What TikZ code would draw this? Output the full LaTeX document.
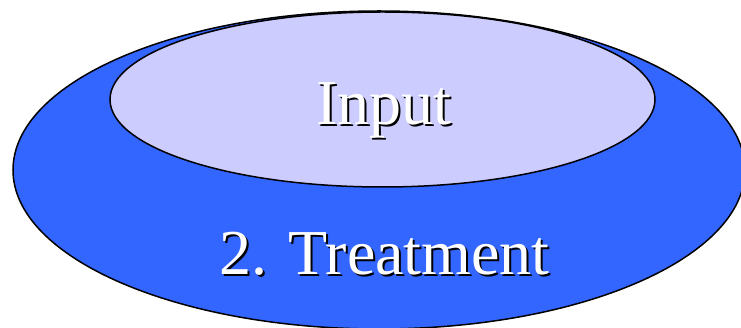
\documentclass[tikz,border=0pt]{standalone}
\usepackage{fontspec}
\setmainfont{Liberation Serif}
\usetikzlibrary{shapes.geometric}

\definecolor{treatblue}{HTML}{3366FF}
\definecolor{inputlav}{HTML}{CCCCFF}

% white text with a black drop shadow
\newcommand{\dropshadow}[1]{\makebox[0pt][l]{\hspace{2pt}\raisebox{-2pt}{\color{black}#1}}#1}

\begin{document}
\begin{tikzpicture}[
        x=1pt, y=-1pt,
        ring/.style={ellipse, draw=black, line width=1.5pt, inner sep=0pt},
        caption/.style={font=\fontsize{64}{64}\selectfont, text=white, inner sep=0pt, anchor=base}
    ]
        \useasboundingbox (0,0) rectangle (741,328);

        \node[ring, fill=treatblue, minimum width=732pt, minimum height=318pt] (treatment) at (379,170) {};
        \node[ring, fill=inputlav, minimum width=545pt, minimum height=175pt] (input) at (382.5,99.5) {};

        \node[caption] (input_label) at (384,125) {\dropshadow{Input}};
        \node[caption] (treatment_label) at (384.5,275) {\dropshadow{2. Treatment}};
    \end{tikzpicture}
\end{document}
